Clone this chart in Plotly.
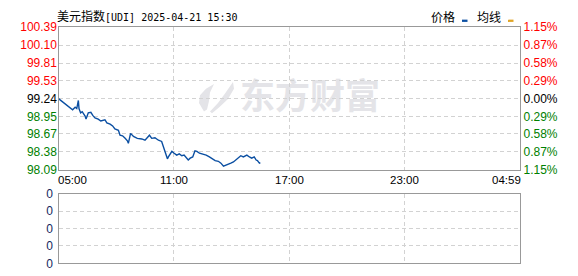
import plotly.graph_objects as go
import pandas as pd

# ---------------- data ----------------
times = ["05:00", "05:15", "05:20", "05:31", "05:38", "05:44", "05:52", "05:57", "06:02", "06:04",
         "06:09", "06:14", "06:23", "06:26", "06:33", "06:41", "06:47", "06:54", "07:04", "07:12",
         "07:25", "07:31", "07:41", "07:49", "07:56", "08:07", "08:12", "08:20", "08:28", "08:35",
         "08:38", "08:45", "08:54", "09:06", "09:20", "09:30", "09:44", "09:51", "10:01", "10:12",
         "10:22", "10:25", "10:30", "10:36", "10:40", "10:43", "10:48", "10:54", "11:01", "11:09",
         "11:17", "11:25", "11:32", "11:38", "11:45", "11:51", "11:59", "12:06", "12:12", "12:20",
         "12:30", "12:41", "12:51", "12:59", "13:09", "13:19", "13:27", "13:35", "13:45", "13:54",
         "13:58", "14:06", "14:14", "14:22", "14:29", "14:37", "14:48", "14:56", "15:03", "15:11",
         "15:17", "15:21", "15:27", "15:30"]
prices = [99.24, 99.18, 99.15, 99.12, 99.08, 99.06, 99.10, 99.08, 99.21, 99.08,
          99.01, 99.03, 98.96, 98.91, 99.01, 99.02, 98.97, 98.93, 98.91, 98.88,
          98.90, 98.85, 98.83, 98.80, 98.75, 98.73, 98.65, 98.64, 98.60, 98.56,
          98.52, 98.68, 98.63, 98.60, 98.59, 98.57, 98.65, 98.60, 98.61, 98.57,
          98.55, 98.50, 98.42, 98.30, 98.27, 98.30, 98.35, 98.39, 98.36, 98.33,
          98.35, 98.32, 98.33, 98.30, 98.25, 98.28, 98.30, 98.40, 98.39, 98.36,
          98.35, 98.33, 98.30, 98.27, 98.24, 98.23, 98.20, 98.15, 98.17, 98.18,
          98.20, 98.22, 98.25, 98.28, 98.32, 98.30, 98.33, 98.30, 98.28, 98.30,
          98.25, 98.24, 98.20, 98.21]
prev_close = 99.24

price_ticks = [98.09, 98.38, 98.67, 98.95, 99.24, 99.53, 99.81, 100.10, 100.39]
price_labels = ["98.09", "98.38", "98.67", "98.95", "99.24", "99.53", "99.81", "100.10", "100.39"]
pct_labels = ["1.15%", "0.87%", "0.58%", "0.29%", "0.00%", "0.29%", "0.58%", "0.87%", "1.15%"]
time_ticks = ["05:00", "11:00", "17:00", "23:00", "04:59"]
vol_ticks = [0, 1, 2, 3, 4]
vol_labels = ["0", "0", "0", "0", "0"]

title_cjk = "美元指数"
title_rest = "[UDI] 2025-04-21 15:30"
legend_items = ["价格", "均线"]
watermark = "东方财富"


def to_dt(hm):
    h = int(hm.split(":")[0])
    day = "2025-04-21" if h >= 5 else "2025-04-22"
    return pd.Timestamp(f"{day} {hm}")


ts = [to_dt(t) for t in times]
tick_ts = [to_dt(t) for t in time_ticks]

# ---------------- geometry helpers (pixels -> paper) ----------------
W, H = 578, 276


def px(x):
    return x / W


def py(y):
    return 1 - y / H


X0, X1 = 58.5, 519.5
MAIN_TOP, MAIN_BOT = 21.3, 171.7
VOL_TOP, VOL_BOT = 196.7, 270.0

RED, GREEN, BLACK = "#ff0000", "#008000", "#000000"


def col(v):
    if abs(v - prev_close) < 1e-9:
        return BLACK
    return RED if v > prev_close else GREEN


left_text = [f"<span style='color:{col(v)}'>{l}</span>" for v, l in zip(price_ticks, price_labels)]
right_text = [f"<span style='color:{col(v)}'>{l}</span>" for v, l in zip(price_ticks, pct_labels)]

GRID = "#d2d2d2"
FRAME = "#999999"
DASH = "4px,3px"
NUM_FONT = "Liberation Sans, Arial, sans-serif"
CJK_FONT = "Noto Sans CJK SC, sans-serif"
MONO_FONT = "DejaVu Sans Mono, monospace"
WM_COLOR = "#e4e4e8"

fig = go.Figure()
fig.add_trace(go.Scatter(x=ts, y=prices, mode="lines", xaxis="x", yaxis="y",
                         line=dict(color="#0b4fa2", width=1.4),
                         hoverinfo="skip", showlegend=False))
# invisible companion trace to carry the right-hand percent axis
fig.add_trace(go.Scatter(x=ts, y=prices, mode="lines", xaxis="x", yaxis="y2",
                         line=dict(color="rgba(0,0,0,0)", width=0), hoverinfo="skip", showlegend=False))
# empty volume panel
fig.add_trace(go.Scatter(x=[ts[0]], y=[0], mode="markers", xaxis="x2", yaxis="y3",
                         marker=dict(size=1, color="rgba(0,0,0,0)"), hoverinfo="skip", showlegend=False))

rng = [tick_ts[0], tick_ts[-1]]
common_x = dict(type="date", range=rng, tickvals=tick_ts, showticklabels=False, ticks="",
                showgrid=True, gridcolor=GRID, griddash=DASH, gridwidth=1,
                showline=True, linecolor=FRAME, linewidth=1.3, mirror=True, zeroline=False,
                domain=[px(X0), px(X1)])

fig.update_layout(
    width=W, height=H, margin=dict(l=0, r=0, t=0, b=0),
    paper_bgcolor="white", plot_bgcolor="rgba(0,0,0,0)", showlegend=False,
    xaxis=dict(anchor="y", **common_x),
    xaxis2=dict(anchor="y3", matches="x", **common_x),
    yaxis=dict(domain=[py(MAIN_BOT), py(MAIN_TOP)], range=[price_ticks[0], price_ticks[-1]],
               tickvals=price_ticks, ticktext=left_text, ticks="", ticklabelstandoff=-2,
               tickfont=dict(family=NUM_FONT, size=12),
               showgrid=True, gridcolor=GRID, griddash=DASH, gridwidth=1,
               showline=True, linecolor=FRAME, linewidth=1.3, mirror=True, zeroline=False),
    yaxis2=dict(overlaying="y", side="right", anchor="x", range=[price_ticks[0], price_ticks[-1]],
                tickvals=price_ticks, ticktext=right_text, ticks="", ticklabelstandoff=3,
                tickfont=dict(family=NUM_FONT, size=12), showgrid=False, zeroline=False,
                showline=False),
    yaxis3=dict(domain=[py(VOL_BOT), py(VOL_TOP)], anchor="x2", range=[0, 4],
                tickvals=vol_ticks, ticktext=vol_labels, ticks="", ticklabelstandoff=2,
                tickfont=dict(family=NUM_FONT, size=12, color="#14285e"),
                showgrid=True, gridcolor=GRID, griddash=DASH, gridwidth=1,
                showline=True, linecolor=FRAME, linewidth=1.3, mirror=True, zeroline=False),
)

annotations = []
# title: CJK part + monospace latin part
title_html = (f"<span style='font-family:{CJK_FONT};font-size:12px'>{title_cjk}</span>"
              f"<span style='font-family:{MONO_FONT};font-size:10px'>{title_rest}</span>")
annotations.append(dict(text=title_html, xref="paper", yref="paper", x=px(58), y=py(9),
                        xanchor="left", yanchor="middle", showarrow=False, xshift=-3,
                        font=dict(family=CJK_FONT, size=12, color="#000000")))
# legend
annotations.append(dict(text=legend_items[0], xref="paper", yref="paper", x=px(431), y=py(10),
                        xanchor="left", yanchor="middle", showarrow=False, xshift=-2,
                        font=dict(family=CJK_FONT, size=12, color="#000000")))
annotations.append(dict(text=legend_items[1], xref="paper", yref="paper", x=px(477), y=py(10),
                        xanchor="left", yanchor="middle", showarrow=False, xshift=-2,
                        font=dict(family=CJK_FONT, size=12, color="#000000")))
# time labels
for i, (t, lab) in enumerate(zip(tick_ts, time_ticks)):
    if i == 0:
        anchor, shift = "left", -3
    elif i == len(tick_ts) - 1:
        anchor, shift = "right", 3
    else:
        anchor, shift = "center", 0
    annotations.append(dict(text=lab, xref="x", yref="paper", x=t, y=py(182),
                            xanchor=anchor, yanchor="middle", showarrow=False, xshift=shift,
                            font=dict(family=NUM_FONT, size=11.5, color="#000000")))
fig.update_layout(annotations=annotations)


def path(points):
    return "M " + " L ".join(f"{px(x):.5f},{py(y):.5f}" for x, y in points) + " Z"


shapes = [
    # watermark text (drawn beneath grid and line)
    dict(type="rect", xref="paper", yref="paper", layer="below",
         x0=px(236), x1=px(384), y0=py(118), y1=py(77),
         fillcolor="rgba(0,0,0,0)", line=dict(width=0),
         label=dict(text=f"<b>{watermark}</b>", textposition="middle center",
                    font=dict(family=CJK_FONT, size=35, color=WM_COLOR))),
    # watermark icon (approximate flame)
    dict(type="path", xref="paper", yref="paper", layer="below",
         path=path([(204, 110), (199, 101), (200, 93), (206, 86), (214, 81), (210, 90), (209, 99), (207, 108)]),
         fillcolor=WM_COLOR, line=dict(width=0)),
    dict(type="path", xref="paper", yref="paper", layer="below",
         path=path([(210, 110), (218, 101), (225, 91), (233, 79), (234, 86), (228, 97), (219, 106), (212, 112)]),
         fillcolor=WM_COLOR, line=dict(width=0)),
    # legend swatches
    dict(type="rect", xref="paper", yref="paper", x0=px(462), x1=px(467.5), y0=py(15.7), y1=py(13.3),
         fillcolor="#0b4fa2", line=dict(width=0)),
    dict(type="rect", xref="paper", yref="paper", x0=px(508), x1=px(513.5), y0=py(15.7), y1=py(13.3),
         fillcolor="#e0a526", line=dict(width=0)),
]
fig.update_layout(shapes=shapes)

fig.write_html("out.html")
